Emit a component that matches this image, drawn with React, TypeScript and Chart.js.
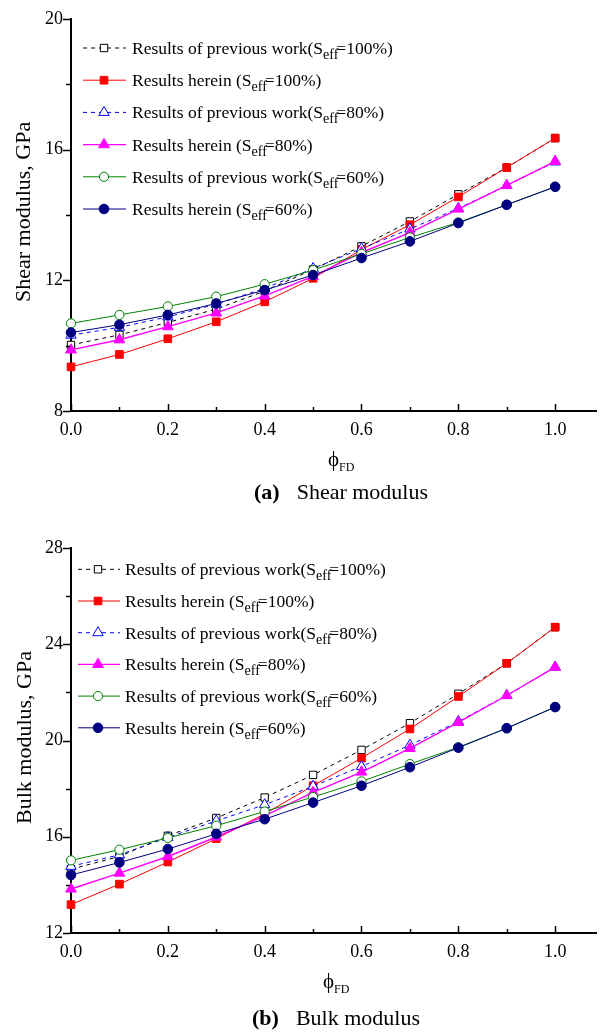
import React, { useEffect, useRef } from 'react';
import { Chart, registerables } from 'chart.js';

Chart.register(...registerables);

const FONT = '"Liberation Serif", "Times New Roman", serif';

// ---------- data ----------
const phiFD = [0, 0.1, 0.2, 0.3, 0.4, 0.5, 0.6, 0.7, 0.8, 0.9, 1.0];
const xTickValues = [0, 0.1, 0.2, 0.3, 0.4, 0.5, 0.6, 0.7, 0.8, 0.9, 1.0];
const xTickLabels = ['0.0', '0.2', '0.4', '0.6', '0.8', '1.0'];

const shearYTicks = [8, 12, 16, 20];
const shearYMinor = [10, 14, 18];
const bulkYTicks = [12, 16, 20, 24, 28];
const bulkYMinor = [14, 18, 22, 26];

const shearPrevious100 = [10.02, 10.33, 10.71, 11.12, 11.67, 12.33, 13.04, 13.80, 14.63, 15.45, 16.35];
const shearHerein100 = [9.35, 9.73, 10.21, 10.73, 11.34, 12.06, 12.94, 13.70, 14.55, 15.45, 16.35];
const shearPrevious80 = [10.32, 10.56, 10.88, 11.27, 11.75, 12.36, 12.97, 13.57, 14.20, 14.90, 15.62];
const shearHerein80 = [9.87, 10.18, 10.58, 11.00, 11.52, 12.12, 12.85, 13.46, 14.18, 14.90, 15.64];
const shearPrevious60 = [10.68, 10.94, 11.20, 11.50, 11.88, 12.31, 12.81, 13.31, 13.77, 14.31, 14.86];
const shearHerein60 = [10.40, 10.64, 10.94, 11.29, 11.70, 12.16, 12.68, 13.19, 13.75, 14.31, 14.86];

const bulkPrevious100 = [14.65, 15.18, 16.04, 16.78, 17.63, 18.57, 19.61, 20.72, 21.94, 23.21, 24.71];
const bulkHerein100 = [13.18, 14.03, 14.95, 15.92, 16.95, 18.12, 19.27, 20.48, 21.83, 23.21, 24.71];
const bulkPrevious80 = [14.77, 15.25, 15.97, 16.66, 17.33, 18.10, 18.92, 19.81, 20.79, 21.87, 23.05];
const bulkHerein80 = [13.83, 14.49, 15.18, 15.99, 16.87, 17.84, 18.69, 19.67, 20.75, 21.87, 23.05];
const bulkPrevious60 = [15.02, 15.46, 15.95, 16.46, 17.05, 17.65, 18.30, 19.02, 19.72, 20.51, 21.39];
const bulkHerein60 = [14.41, 14.93, 15.49, 16.12, 16.73, 17.42, 18.12, 18.89, 19.70, 20.51, 21.39];

const legendTexts = [
  ['Results of previous work(S', 'eff', '=100%)'],
  ['Results herein (S', 'eff', '=100%)'],
  ['Results of previous work(S', 'eff', '=80%)'],
  ['Results herein (S', 'eff', '=80%)'],
  ['Results of previous work(S', 'eff', '=60%)'],
  ['Results herein (S', 'eff', '=60%)'],
];

// ---------- styles ----------
const STYLES = [
  { color: '#000000', fill: '#ffffff', dash: [4, 4], point: 'rect', r: 5.2, lw: 1 },
  { color: '#ff0000', fill: '#ff0000', dash: [], point: 'rect', r: 5.4, lw: 1 },
  { color: '#0000ff', fill: '#ffffff', dash: [4, 4], point: 'triangle', r: 6, lw: 1 },
  { color: '#ff00ff', fill: '#ff00ff', dash: [], point: 'triangle', r: 6.2, lw: 1.4 },
  { color: '#008000', fill: '#ffffff', dash: [], point: 'circle', r: 4.6, lw: 1 },
  { color: '#000080', fill: '#000080', dash: [], point: 'circle', r: 4.8, lw: 1 },
];

const X_MAX = 1.086;

function drawMarker(ctx: CanvasRenderingContext2D, style: string, x: number, y: number, r: number) {
  ctx.beginPath();
  if (style === 'rect') {
    const s = r * Math.SQRT1_2;
    ctx.rect(x - s, y - s, 2 * s, 2 * s);
  } else if (style === 'triangle') {
    for (let k = 0; k < 3; k++) {
      const a = (k * 2 * Math.PI) / 3;
      const px = x + Math.sin(a) * r;
      const py = y - Math.cos(a) * r;
      if (k === 0) ctx.moveTo(px, py);
      else ctx.lineTo(px, py);
    }
    ctx.closePath();
  } else {
    ctx.arc(x, y, r, 0, Math.PI * 2);
  }
  ctx.fill();
  ctx.stroke();
}

type Panel = {
  height: number;
  series: number[][];
  yMin: number;
  yMax: number;
  yTicks: number[];
  yMinor: number[];
  yTitle: string;
  capLetter: string;
  capText: string;
  layout: {
    padTop: number;
    padBottom: number;
    legendY0: number;
    legendDy: number;
    lineX0: number;
    lineX1: number;
    markX: number;
    textX: number;
    yTitleX: number;
    yTitleShift: number;
    phiX: number;
    phiY: number;
    capX: number;
    capGap: number;
    capY: number;
  };
};

function makePlugin(p: Panel) {
  return {
    id: 'decor',
    afterDraw(chart: any) {
      const { ctx, chartArea: ca, scales } = chart;
      const xs = scales.x;
      const ys = scales.y;
      const L = p.layout;
      ctx.save();
      ctx.setLineDash([]);
      ctx.strokeStyle = '#000';
      ctx.lineWidth = 1.5;
      // x ticks (inside)
      xTickValues.forEach((v, i) => {
        const px = Math.round(xs.getPixelForValue(v)) + 0.5;
        const len = i % 2 === 0 ? 7 : 4;
        ctx.beginPath();
        ctx.moveTo(px, ca.bottom);
        ctx.lineTo(px, ca.bottom - len);
        ctx.stroke();
      });
      // y ticks (outside)
      const drawY = (v: number, len: number) => {
        const py = Math.round(ys.getPixelForValue(v)) + 0.5;
        ctx.beginPath();
        ctx.moveTo(ca.left - 1, py);
        ctx.lineTo(ca.left - 1 - len, py);
        ctx.stroke();
      };
      p.yTicks.forEach((v) => drawY(v, 7));
      p.yMinor.forEach((v) => drawY(v, 4));

      // legend
      legendTexts.forEach((parts, i) => {
        const s = STYLES[i];
        const y = L.legendY0 + i * L.legendDy;
        ctx.strokeStyle = s.color;
        ctx.lineWidth = s.lw;
        ctx.setLineDash(s.dash);
        ctx.beginPath();
        ctx.moveTo(L.lineX0, y);
        ctx.lineTo(L.lineX1, y);
        ctx.stroke();
        ctx.setLineDash([]);
        ctx.lineWidth = 1;
        ctx.fillStyle = s.fill;
        drawMarker(ctx, s.point, L.markX, y, s.r);
        ctx.fillStyle = '#000';
        ctx.textBaseline = 'alphabetic';
        ctx.textAlign = 'left';
        const base = y + 6;
        let x = L.textX;
        ctx.font = `17.5px ${FONT}`;
        ctx.fillText(parts[0], x, base);
        x += ctx.measureText(parts[0]).width;
        ctx.font = `14px ${FONT}`;
        ctx.fillText(parts[1], x, base + 5);
        x += ctx.measureText(parts[1]).width - 2;
        ctx.font = `17.5px ${FONT}`;
        ctx.fillText(parts[2], x, base);
      });

      // y title
      ctx.save();
      ctx.translate(L.yTitleX, (ca.top + ca.bottom) / 2 + L.yTitleShift);
      ctx.rotate(-Math.PI / 2);
      ctx.textAlign = 'center';
      ctx.textBaseline = 'alphabetic';
      ctx.font = `22px ${FONT}`;
      ctx.fillStyle = '#000';
      ctx.fillText(p.yTitle, 0, 0);
      ctx.restore();

      // x title  phi_FD
      ctx.fillStyle = '#000';
      ctx.textAlign = 'left';
      ctx.textBaseline = 'alphabetic';
      ctx.font = `21px ${FONT}`;
      ctx.fillText('\u03D5', L.phiX, L.phiY);
      const pw = ctx.measureText('\u03D5').width;
      ctx.font = `12px ${FONT}`;
      ctx.fillText('FD', L.phiX + pw, L.phiY + 5);

      // caption
      ctx.font = `bold 22px ${FONT}`;
      ctx.fillText(p.capLetter, L.capX, L.capY);
      const lw = ctx.measureText(p.capLetter).width;
      ctx.font = `22px ${FONT}`;
      ctx.fillText(p.capText, L.capX + lw + L.capGap, L.capY);
      ctx.restore();
    },
  };
}

function buildConfig(p: Panel): any {
  const datasets = p.series.map((vals, i) => {
    const s = STYLES[i];
    return {
      label: legendTexts[i].join(''),
      data: phiFD.map((x, j) => ({ x, y: vals[j] })),
      borderColor: s.color,
      backgroundColor: s.fill,
      borderWidth: s.lw,
      borderDash: s.dash,
      pointStyle: s.point,
      pointRadius: s.r,
      pointHoverRadius: s.r,
      pointBackgroundColor: s.fill,
      pointBorderColor: s.color,
      pointBorderWidth: 1,
      tension: 0,
      fill: false,
      clip: false,
      order: STYLES.length - i,
    };
  });
  const tickFont = { family: FONT, size: 18 };
  return {
    type: 'line',
    data: { datasets },
    options: {
      animation: false,
      responsive: false,
      devicePixelRatio: 1,
      events: [],
      layout: { padding: { top: p.layout.padTop, right: 0, left: 0, bottom: p.layout.padBottom } },
      plugins: { legend: { display: false }, tooltip: { enabled: false }, title: { display: false } },
      scales: {
        x: {
          type: 'linear',
          min: 0,
          max: X_MAX,
          grid: { display: false, drawTicks: false, tickLength: 0 },
          border: { display: true, color: '#000', width: 2 },
          afterBuildTicks: (s: any) => {
            s.ticks = xTickValues.map((v) => ({ value: v }));
          },
          afterFit: (s: any) => {
            s.height = 30;
          },
          ticks: {
            autoSkip: false,
            maxRotation: 0,
            minRotation: 0,
            padding: 8,
            color: '#000',
            font: tickFont,
            callback: (_v: any, idx: number) => (idx % 2 === 0 ? xTickLabels[idx / 2] : ''),
          },
        },
        y: {
          type: 'linear',
          min: p.yMin,
          max: p.yMax,
          grid: { display: false, drawTicks: false, tickLength: 0 },
          border: { display: true, color: '#000', width: 2 },
          afterBuildTicks: (s: any) => {
            s.ticks = p.yTicks.map((v) => ({ value: v }));
          },
          afterFit: (s: any) => {
            s.width = 71;
          },
          ticks: {
            padding: 8,
            color: '#000',
            font: tickFont,
            callback: (v: any) => String(v),
          },
        },
      },
    },
    plugins: [makePlugin(p)],
  };
}

const shearPanel: Panel = {
  height: 520,
  series: [shearPrevious100, shearHerein100, shearPrevious80, shearHerein80, shearPrevious60, shearHerein60],
  yMin: 8,
  yMax: 20,
  yTicks: shearYTicks,
  yMinor: shearYMinor,
  yTitle: 'Shear modulus, GPa',
  capLetter: '(a)',
  capText: 'Shear modulus',
  layout: {
    padTop: 16,
    padBottom: 79,
    legendY0: 48,
    legendDy: 32.2,
    lineX0: 83,
    lineX1: 126,
    markX: 104,
    textX: 132,
    yTitleX: 30,
    yTitleShift: -3,
    phiX: 328,
    phiY: 466,
    capX: 254,
    capGap: 17,
    capY: 499,
  },
};

const bulkPanel: Panel = {
  height: 512,
  series: [bulkPrevious100, bulkHerein100, bulkPrevious80, bulkHerein80, bulkPrevious60, bulkHerein60],
  yMin: 12,
  yMax: 28,
  yTicks: bulkYTicks,
  yMinor: bulkYMinor,
  yTitle: 'Bulk modulus, GPa',
  capLetter: '(b)',
  capText: 'Bulk modulus',
  layout: {
    padTop: 28,
    padBottom: 69,
    legendY0: 49.3,
    legendDy: 31.7,
    lineX0: 78,
    lineX1: 120,
    markX: 98,
    textX: 125,
    yTitleX: 30.5,
    yTitleShift: -3,
    phiX: 323,
    phiY: 468,
    capX: 252,
    capGap: 17,
    capY: 505,
  },
};

function ModulusChart({ panel }: { panel: Panel }) {
  const ref = useRef<HTMLCanvasElement | null>(null);
  useEffect(() => {
    if (!ref.current) return;
    const chart = new Chart(ref.current, buildConfig(panel));
    return () => chart.destroy();
  }, [panel]);
  return (
    <canvas
      ref={ref}
      width={604}
      height={panel.height}
      style={{ display: 'block', width: 604, height: panel.height }}
    />
  );
}

export default function App() {
  useEffect(() => {
    document.body.style.margin = '0';
    document.body.style.background = '#ffffff';
  }, []);
  return (
    <div style={{ width: 604, height: 1032, background: '#fff', overflow: 'hidden' }}>
      <ModulusChart panel={shearPanel} />
      <ModulusChart panel={bulkPanel} />
    </div>
  );
}
